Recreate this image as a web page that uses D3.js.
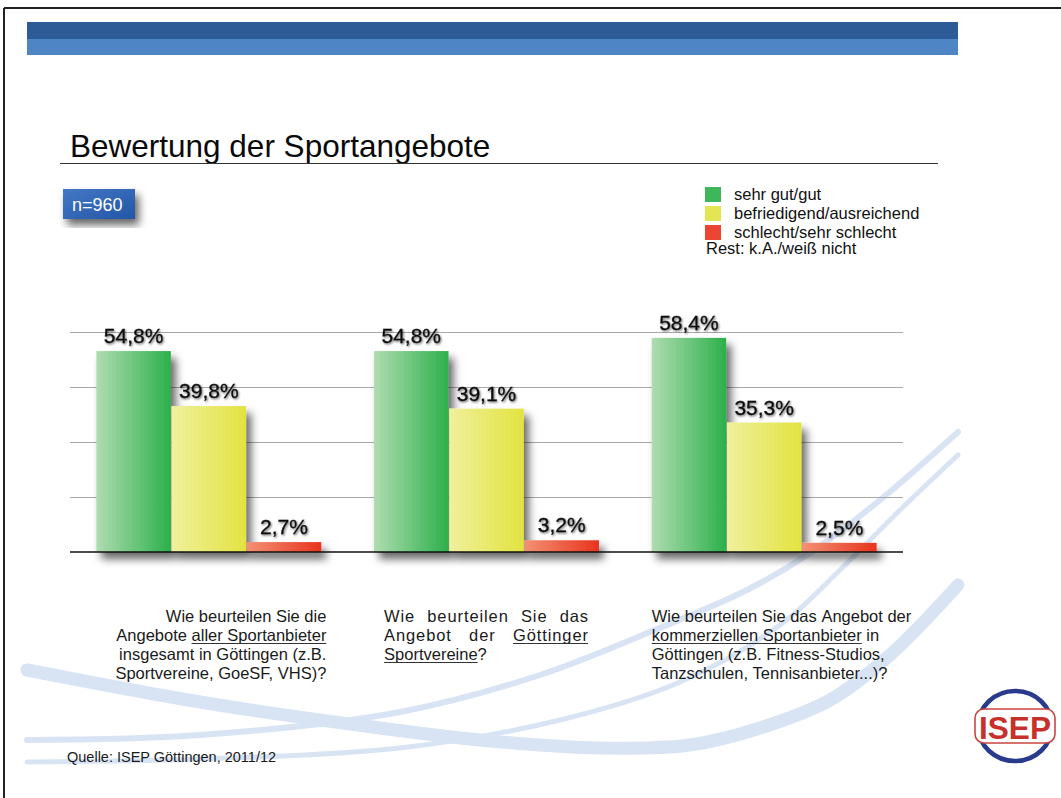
<!DOCTYPE html>
<html><head><meta charset="utf-8">
<script src="https://cdn.jsdelivr.net/npm/d3@7"></script>
<style>body{margin:0;background:#fff}svg{display:block}</style>
</head><body><svg id="c" width="1061" height="798"></svg>
<script>
// ---------- data ----------
const groups = ["Alle Sportanbieter", "Göttinger Sportvereine", "Kommerzielle Sportanbieter"];
const seriesNames = ["sehr gut/gut", "befriedigend/ausreichend", "schlecht/sehr schlecht"];
const sehrGutGut = [54.8, 54.8, 58.4];
const befriedigend = [39.8, 39.1, 35.3];
const schlecht = [2.7, 3.2, 2.5];
const yTicks = [0, 15, 30, 45, 60];
const questionLines = [
  ["Wie beurteilen Sie die", "Angebote _aller Sportanbieter_", "insgesamt in Göttingen (z.B.", "Sportvereine, GoeSF, VHS)?"],
  ["Wie beurteilen Sie das", "Angebot der _Göttinger_", "_Sportvereine_?"],
  ["Wie beurteilen Sie das Angebot der", "_kommerziellen Sportanbieter_ in", "Göttingen (z.B. Fitness-Studios,", "Tanzschulen, Tennisanbieter...)?"]
];
const titleText = "Bewertung der Sportangebote";
const sampleText = "n=960";
const restText = "Rest: k.A./weiß nicht";
const sourceText = "Quelle: ISEP Göttingen, 2011/12";
// decorative background swooshes (not data)
const swooshThick = [[27,670],[200,702],[350,724],[480,740],[600,748],[690,745],[760,728],[830,700],[890,655],[958,585]];
const swooshThin1 = [[27,740],[200,735],[400,712],[540,675],[650,632],[747,590],[807,555],[880,500],[958,432]];
const swooshThin2 = [[27,762],[200,759],[400,748],[560,720],[680,682],[780,625],[840,570],[900,510],[958,455]];

const seriesValues = [sehrGutGut, befriedigend, schlecht];
const FONT = "'Liberation Sans', Arial, Helvetica, sans-serif";
const NB = s => s.replace(/ /g, "\u00A0");
const svg = d3.select("#c");
const defs = svg.append("defs");

// gradients
const barColors = [["#afdcb0", "#2cb04b"], ["#eff09c", "#e2e33f"], ["#f39173", "#e8331d"]];
barColors.forEach((c, i) => {
  const g = defs.append("linearGradient").attr("id", "bg" + i).attr("x1", 0).attr("x2", 1).attr("y1", 0).attr("y2", 0);
  g.append("stop").attr("offset", 0).attr("stop-color", c[0]);
  g.append("stop").attr("offset", 1).attr("stop-color", c[1]);
});
const nb = defs.append("linearGradient").attr("id", "nbox").attr("x1", 0).attr("x2", 1).attr("y1", 0).attr("y2", 1);
nb.append("stop").attr("offset", 0).attr("stop-color", "#4378c6");
nb.append("stop").attr("offset", 1).attr("stop-color", "#2356a6");

function shadowFilter(id, dx, dy, sd, op) {
  const f = defs.append("filter").attr("id", id).attr("x", "-20%").attr("y", "-20%").attr("width", "150%").attr("height", "150%");
  f.append("feDropShadow").attr("dx", dx).attr("dy", dy).attr("stdDeviation", sd).attr("flood-color", "#000").attr("flood-opacity", op);
}
shadowFilter("barShadow", 5, 7, 4.5, 0.6);
shadowFilter("boxShadow", 4, 6, 4, 0.6);
shadowFilter("txtShadow", 1, 1.2, 1, 0.6);
const legBlur = defs.append("filter").attr("id", "soft");
legBlur.append("feGaussianBlur").attr("stdDeviation", 0.6);

// frame
svg.append("line").attr("x1", 4).attr("x2", 1061).attr("y1", 8).attr("y2", 8).attr("stroke", "#222").attr("stroke-width", 2);
svg.append("line").attr("x1", 4).attr("x2", 4).attr("y1", 8).attr("y2", 798).attr("stroke", "#222").attr("stroke-width", 2);

// header bars
svg.append("rect").attr("x", 27).attr("y", 22).attr("width", 931).attr("height", 17).attr("fill", "#2d5b95");
svg.append("rect").attr("x", 27).attr("y", 39).attr("width", 931).attr("height", 16).attr("fill", "#4d85c5");

// swooshes
const sw = d3.line().curve(d3.curveCatmullRom);
const swg = svg.append("g").attr("fill", "none").attr("stroke", "#a9c4e8").attr("stroke-linecap", "round").attr("opacity", 0.45);
swg.append("path").attr("d", sw(swooshThick)).attr("stroke-width", 13);
swg.append("path").attr("d", sw(swooshThin1)).attr("stroke-width", 6);
swg.append("path").attr("d", sw(swooshThin2)).attr("stroke-width", 5);

// title
svg.append("text").attr("x", 70).attr("y", 157).attr("font-family", FONT).attr("font-size", 31.5).attr("fill", "#0a0a0a").text(titleText);
svg.append("line").attr("x1", 60).attr("x2", 938).attr("y1", 163.5).attr("y2", 163.5).attr("stroke", "#333").attr("stroke-width", 1.2);

// n box
svg.append("rect").attr("x", 63).attr("y", 189).attr("width", 72).attr("height", 30).attr("fill", "url(#nbox)").attr("filter", "url(#boxShadow)");
svg.append("text").attr("x", 72).attr("y", 211).attr("font-family", FONT).attr("font-size", 18).attr("fill", "#fff").text(sampleText);

// legend
const leg = svg.append("g");
seriesNames.forEach((s, i) => {
  const yy = 187 + i * 19;
  leg.append("rect").attr("x", 705).attr("y", yy).attr("width", 16).attr("height", 15).attr("fill", barColors[i][1]).attr("opacity", 0.9).attr("filter", "url(#soft)");
  leg.append("text").attr("x", 734).attr("y", yy + 13).attr("font-family", FONT).attr("font-size", 16.5).attr("fill", "#111").text(s);
});
leg.append("text").attr("x", 706).attr("y", 254).attr("font-family", FONT).attr("font-size", 16.5).attr("fill", "#111").text(restText);

// scales
const x = d3.scaleBand().domain(groups).range([70, 903]).paddingInner(0.19).paddingOuter(0.095);
const xs = d3.scaleBand().domain(seriesNames).range([0, x.bandwidth()]).paddingInner(0.01);
const y = d3.scaleLinear().domain([0, 60]).range([552, 332]);

// grid
svg.append("g").selectAll("line").data(yTicks.filter(t => t > 0)).join("line")
  .attr("x1", 70).attr("x2", 903).attr("y1", d => y(d) + 0.5).attr("y2", d => y(d) + 0.5)
  .attr("stroke", "#a8a8a8").attr("stroke-width", 1);

// bars
const flat = [];
groups.forEach((g, gi) => seriesNames.forEach((s, si) => flat.push({g, s, si, v: seriesValues[si][gi]})));
const barsG = svg.append("g").attr("filter", "url(#barShadow)");
barsG.selectAll("rect").data(flat).join("rect")
  .attr("x", d => x(d.g) + xs(d.s))
  .attr("y", d => y(d.v))
  .attr("width", xs.bandwidth())
  .attr("height", d => y(0) - y(d.v))
  .attr("fill", d => "url(#bg" + d.si + ")");

// baseline
svg.append("line").attr("x1", 70).attr("x2", 903).attr("y1", y(0)).attr("y2", y(0)).attr("stroke", "#111").attr("stroke-width", 1.5);

// value labels
const fmt = v => d3.format(".1f")(v).replace(".", ",") + "%";
svg.append("g").selectAll("text").data(flat).join("text")
  .attr("x", d => x(d.g) + xs(d.s) + xs.bandwidth() / 2)
  .attr("y", d => y(d.v) - 8)
  .attr("text-anchor", "middle").attr("font-family", FONT).attr("font-size", 21)
  .attr("fill", "#111").attr("stroke", "#111").attr("stroke-width", 0.3).attr("filter", "url(#txtShadow)")
  .text(d => fmt(d.v));

// question texts
const QFS = 16.5;
const meas = svg.append("text").attr("font-family", FONT).attr("font-size", QFS).attr("visibility", "hidden");
function w(t, ls) { meas.attr("letter-spacing", ls || 0).text(NB(t)); return meas.node().getComputedTextLength(); }
function parse(line) { return line.split("_").map((t, i) => ({t, u: i % 2 === 1})).filter(s => s.t.length); }
const qg = svg.append("g").attr("font-family", FONT).attr("font-size", QFS).attr("fill", "#1a1a1a");
function drawSegs(segs, x0, by, ls) {
  let cx = x0;
  segs.forEach(s => {
    const ww = w(s.t, ls);
    qg.append("text").attr("x", cx).attr("y", by).attr("letter-spacing", ls || 0).text(NB(s.t));
    if (s.u) qg.append("rect").attr("x", cx).attr("y", by + 2).attr("width", ww - (ls || 0)).attr("height", 1).attr("fill", "#333");
    cx += ww;
  });
}
const baseY = 622, lh = 19;
questionLines.forEach((lines, gi) => {
  const bx = x(groups[gi]);
  lines.forEach((line, li) => {
    const by = baseY + li * lh;
    const segs = parse(line);
    if (gi === 0) {
      const tot = d3.sum(segs, s => w(s.t));
      drawSegs(segs, bx + 230 - tot, by);
    } else if (gi === 1 && li < lines.length - 1) {
      const ls = 0.9;
      const words = [];
      segs.forEach(s => s.t.split(" ").filter(t => t).forEach(t => words.push({t, u: s.u})));
      const left = bx + 10, right = bx + 214;
      const tot = d3.sum(words, d => w(d.t, ls)) - ls;
      const gap = (right - left - tot) / (words.length - 1);
      let cx = left;
      words.forEach(d => { drawSegs([d], cx, by, ls); cx += w(d.t, ls) + gap; });
    } else if (gi === 1) {
      drawSegs(segs, bx + 10, by);
    } else {
      drawSegs(segs, bx, by);
    }
  });
});

// source
svg.append("text").attr("x", 67).attr("y", 762).attr("font-family", FONT).attr("font-size", 14.5).attr("fill", "#1a1a1a").text(sourceText);

// logo
const lg = svg.append("g");
lg.append("ellipse").attr("cx", 1015).attr("cy", 726).attr("rx", 37).attr("ry", 35).attr("fill", "none").attr("stroke", "#2a3a8c").attr("stroke-width", 4.5);
lg.append("rect").attr("x", 975).attr("y", 709).attr("width", 80).attr("height", 34).attr("rx", 9).attr("fill", "#fff").attr("stroke", "#c9463e").attr("stroke-width", 1.6);
lg.append("text").attr("x", 1015).attr("y", 739).attr("text-anchor", "middle").attr("font-family", "'Liberation Sans Narrow', " + FONT)
  .attr("font-weight", "bold").attr("font-size", 32).attr("fill", "#c8302b").attr("textLength", 72).attr("lengthAdjust", "spacingAndGlyphs").text("ISEP");
</script></body></html>
